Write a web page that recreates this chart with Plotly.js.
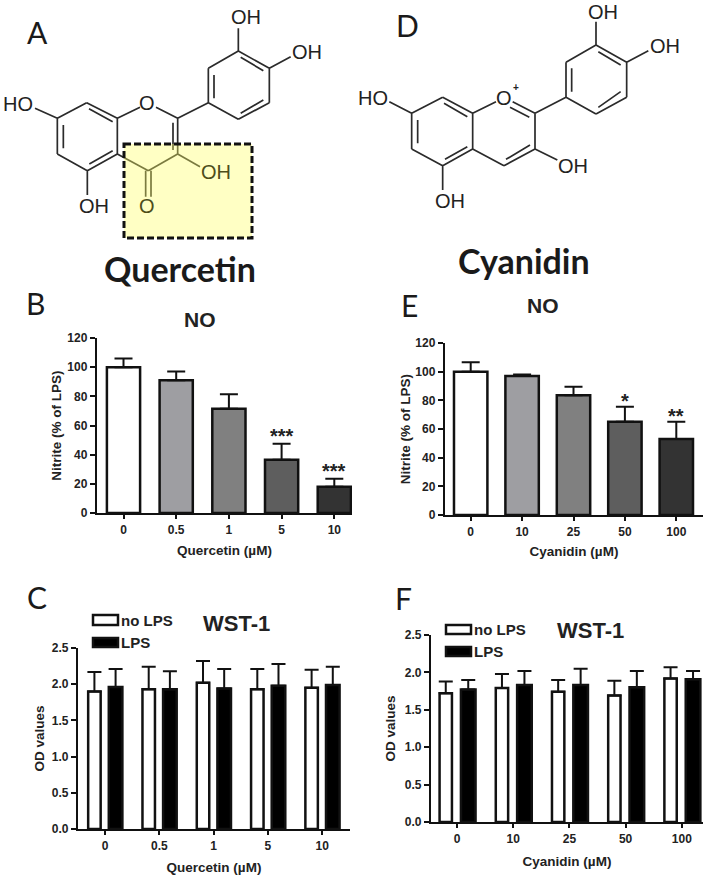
<!DOCTYPE html>
<html>
<head>
<meta charset="utf-8">
<script src="https://cdn.plot.ly/plotly-3.0.1.min.js"></script>
<style>html,body{margin:0;padding:0;background:#fff}#chart{width:715px;height:879px}</style>
</head>
<body>
<div id="chart"></div>
<script>
// ---- data ----
const quercetinDoses = ['0', '0.5', '1', '5', '10'];
const cyanidinDoses = ['0', '10', '25', '50', '100'];

const noQuercetin = [100, 91, 71.5, 36.5, 18];
const noQuercetinErr = [6, 6, 10, 11, 5.5];
const noQuercetinSig = ['', '', '', '***', '***'];

const noCyanidin = [100, 97, 83.5, 65, 53];
const noCyanidinErr = [6.5, 1, 6, 10.5, 12];
const noCyanidinSig = ['', '', '', '*', '**'];

const noFills = ['#ffffff', '#9e9ea2', '#808080', '#5e5e5e', '#333333'];

const wstQuercetinNoLps = [1.90, 1.93, 2.02, 1.93, 1.95];
const wstQuercetinNoLpsErr = [0.27, 0.31, 0.30, 0.28, 0.25];
const wstQuercetinLps = [1.96, 1.93, 1.94, 1.98, 1.99];
const wstQuercetinLpsErr = [0.25, 0.25, 0.27, 0.30, 0.25];

const wstCyanidinNoLps = [1.72, 1.79, 1.74, 1.69, 1.92];
const wstCyanidinNoLpsErr = [0.16, 0.19, 0.16, 0.20, 0.15];
const wstCyanidinLps = [1.77, 1.83, 1.83, 1.80, 1.91];
const wstCyanidinLpsErr = [0.13, 0.19, 0.22, 0.22, 0.11];

// ---- page pixel helpers ----
const W = 715, H = 879;
const px = x => x / W;
const py = y => 1 - y / H;
const INK = '#111111', TXT = '#222222';
const SANS = 'Liberation Sans, Arial, sans-serif';
const CAL = 'Lato, Carlito, sans-serif';

// ---- chemical structure drawings (reference zoom units: 3 per page pixel) ----
const quercetinBonds = [
 [172,355,260,308],[260,308,352,355],[352,355,352,462],[352,462,262,512],[262,512,172,462],[172,462,172,355],
 [267,326,338,365],[190,375,190,445],[338,452,268,492],
 [352,355,420,322],[468,322,533,355],[533,355,533,462],[519,368,519,450],[533,462,445,512],[445,512,352,462],
 [437,512,437,590],[453,512,453,590],[533,462,600,500],
 [533,355,625,308],[625,308,625,205],[625,205,715,153],[715,153,808,205],[808,205,808,308],[808,308,715,358],[715,358,625,308],
 [642,295,642,225],[722,172,790,212],[790,300,722,340],
 [715,153,715,85],[808,205,872,170],[172,355,105,325],[262,512,262,585]
];
const cyanidinBonds = [
 [185,340,278,292],[278,292,368,340],[368,340,368,447],[368,447,278,497],[278,497,185,447],[185,447,185,340],
 [282,310,352,350],[203,360,203,430],[352,440,285,478],
 [368,340,438,305],[488,305,555,340],[480,322,538,352],[555,340,555,447],[555,447,462,497],[462,497,368,447],[540,435,468,478],
 [555,447,622,480],[555,340,648,292],
 [648,292,648,187],[648,187,738,135],[738,135,830,187],[830,187,830,292],[830,292,738,342],[738,342,648,292],
 [665,275,665,205],[745,155,812,195],[812,275,745,322],
 [738,135,738,65],[830,187,895,152],[185,340,118,305],[278,497,278,570]
];
function bondPath(bonds, ox) {
  return bonds.map(b => 'M' + px(ox + b[0] / 3) + ',' + py(b[1] / 3) + 'L' + px(ox + b[2] / 3) + ',' + py(b[3] / 3)).join('');
}
const shapes = [
  {type:'path', xref:'paper', yref:'paper', path:bondPath(quercetinBonds, 0), line:{color:'#2b2b2b', width:1.7}},
  {type:'path', xref:'paper', yref:'paper', path:bondPath(cyanidinBonds, 350), line:{color:'#2b2b2b', width:1.7}},
  {type:'rect', xref:'paper', yref:'paper', x0:px(124), x1:px(252), y0:py(144), y1:py(238),
   fillcolor:'rgba(255,255,100,0.38)', line:{color:'#111111', width:3, dash:'7px,3px'}, layer:'above'}
];

function label(text, x, y, size, opts) {
  return Object.assign({text, xref:'paper', yref:'paper', x:px(x), y:py(y), xanchor:'center', yanchor:'middle',
    showarrow:false, font:{family:SANS, size, color:TXT}}, opts || {});
}
const calFont = (size, weight) => ({family:CAL, size, color:'#1a1a1a', weight});
const molFont = {family:SANS, size:20, color:'#222222'};
const boxFont = {family:SANS, size:20, color:'#4d4d1a'};
const annotations = [
  label('A', 37, 32, 30, {font:calFont(30, 400)}),
  label('D', 407, 25, 30, {font:calFont(30, 400)}),
  label('B', 35, 303, 30, {font:calFont(30, 400)}),
  label('E', 409, 305, 30, {font:calFont(30, 400)}),
  label('C', 37, 597, 30, {font:calFont(30, 400)}),
  label('F', 403, 598, 30, {font:calFont(30, 400)}),
  label('Quercetin', 180, 268, 34, {font:calFont(34, 700)}),
  label('Cyanidin', 524, 260, 34, {font:calFont(34, 700)}),
  label('NO', 200, 319, 21, {font:{family:SANS, size:21, color:TXT, weight:700}}),
  label('NO', 543, 305, 21, {font:{family:SANS, size:21, color:TXT, weight:700}}),
  label('WST-1', 237, 623, 22, {font:{family:SANS, size:22, color:TXT, weight:700}}),
  label('WST-1', 590, 630, 22, {font:{family:SANS, size:22, color:TXT, weight:700}}),
  // quercetin atoms
  label('OH', 246, 17, 20, {font:molFont}),
  label('OH', 307, 52, 20, {font:molFont}),
  label('HO', 18, 104, 20, {font:molFont}),
  label('O', 147, 103, 20, {font:molFont}),
  label('OH', 94, 206, 20, {font:molFont}),
  label('OH', 216, 172, 20, {font:boxFont}),
  label('O', 147, 206, 20, {font:boxFont}),
  // cyanidin atoms
  label('OH', 603, 12, 20, {font:molFont}),
  label('OH', 665, 46, 20, {font:molFont}),
  label('HO', 373, 98, 20, {font:molFont}),
  label('O', 504, 98, 20, {font:molFont}),
  label('+', 516, 88, 10, {font:{family:SANS, size:10, color:'#222222', weight:700}}),
  label('OH', 573, 166, 20, {font:molFont}),
  label('OH', 450, 201, 20, {font:molFont})
];

// legend keys, placed beside each WST-1 chart
function legendKey(x0, x1, yTop, yBot, fill) {
  shapes.push({type:'rect', xref:'paper', yref:'paper', x0:px(x0), x1:px(x1), y0:py(yTop), y1:py(yBot),
    fillcolor:fill, line:{color:INK, width:2.5}});
}
const legendFont = {family:SANS, size:15, color:TXT, weight:700};
legendKey(93, 118, 615, 625, '#ffffff'); legendKey(93, 118, 638, 647, '#000000');
annotations.push(label('no LPS', 119, 620, 15, {xanchor:'left', font:legendFont}));
annotations.push(label('LPS', 119, 642, 15, {xanchor:'left', font:legendFont}));
legendKey(446, 471, 625, 634, '#ffffff'); legendKey(446, 471, 647, 656, '#000000');
annotations.push(label('no LPS', 472, 629, 15, {xanchor:'left', font:legendFont}));
annotations.push(label('LPS', 472, 651, 15, {xanchor:'left', font:legendFont}));

// ---- axes ----
function xAxis(anchor, left, right, c0, step, title, doses, standoff) {
  return {type:'category', categoryorder:'array', categoryarray:doses, anchor,
    domain:[px(left), px(right)], range:[(left - c0) / step, (right - c0) / step],
    showline:true, linecolor:INK, linewidth:2.2, ticks:'outside', ticklen:4, tickwidth:2, tickcolor:INK,
    showgrid:false, zeroline:false,
    tickfont:{family:SANS, size:12, color:TXT, weight:700},
    title:{text:title, font:{family:SANS, size:13.5, color:TXT, weight:700}, standoff}, automargin:false};
}
function yAxis(anchor, top, bottom, max, dtick, title, fmt, standoff) {
  return {anchor, domain:[py(bottom), py(top)], range:[0, max], dtick, tickformat:fmt,
    showline:true, linecolor:INK, linewidth:2.2, ticks:'outside', ticklen:5, tickwidth:2, tickcolor:INK,
    showgrid:false, zeroline:false,
    tickfont:{family:SANS, size:12, color:TXT, weight:700},
    title:{text:title, font:{family:SANS, size:13.5, color:TXT, weight:700}, standoff}, automargin:false};
}
const layout = {
  width:W, height:H, margin:{l:0, r:0, t:0, b:0}, paper_bgcolor:'#ffffff', plot_bgcolor:'rgba(0,0,0,0)',
  showlegend:false, barmode:'overlay',
  xaxis: xAxis('y', 97, 352, 123.5, 52.7, 'Quercetin (µM)', quercetinDoses, 10),
  yaxis: yAxis('x', 338, 513, 120, 20, 'Nitrite (% of LPS)', 'd', 3),
  xaxis2:xAxis('y2', 445, 703, 470.7, 51.4, 'Cyanidin (µM)', cyanidinDoses, 9),
  yaxis2:yAxis('x2', 343, 515, 120, 20, 'Nitrite (% of LPS)', 'd', 2),
  xaxis3:xAxis('y3', 78, 350, 105, 54.3, 'Quercetin (µM)', quercetinDoses, 11),
  yaxis3:yAxis('x3', 648, 829, 2.5, 0.5, 'OD values', '.1f', 4),
  xaxis4:xAxis('y4', 431, 703, 457, 56.2, 'Cyanidin (µM)', cyanidinDoses, 12),
  yaxis4:yAxis('x4', 635, 822, 2.5, 0.5, 'OD values', '.1f', 6),
  shapes, annotations
};

// significance marks sit just above each error bar
function sigMarks(xa, ya, vals, errs, sig, shift) {
  sig.forEach((s, i) => { if (s) annotations.push({text:s, xref:xa, yref:ya, x:i, y:vals[i] + errs[i],
    yanchor:'middle', yshift:shift, showarrow:false, font:{family:SANS, size:20, color:'#222222', weight:700}}); });
}
sigMarks('x', 'y', noQuercetin, noQuercetinErr, noQuercetinSig, 8);
sigMarks('x2', 'y2', noCyanidin, noCyanidinErr, noCyanidinSig, 6);

// ---- traces ----
function bars(xa, ya, name, x, y, err, fill, width, offset, cap) {
  return {type:'bar', name, xaxis:xa, yaxis:ya, x, y, width, offset,
    marker:{color:fill, line:{color:INK, width:2.5}},
    error_y:{type:'data', symmetric:false, array:err, arrayminus:err.map(() => 0), color:INK, thickness:2, width:cap}};
}
const traces = [
  bars('x', 'y', 'NO', quercetinDoses, noQuercetin, noQuercetinErr, noFills, 0.63, -0.315, 9),
  bars('x2', 'y2', 'NO', cyanidinDoses, noCyanidin, noCyanidinErr, noFills, 0.65, -0.325, 9),
  bars('x3', 'y3', 'no LPS', quercetinDoses, wstQuercetinNoLps, wstQuercetinNoLpsErr, '#ffffff', 0.23, -0.31, 7),
  bars('x3', 'y3', 'LPS', quercetinDoses, wstQuercetinLps, wstQuercetinLpsErr, '#000000', 0.25, 0.07, 7),
  bars('x4', 'y4', 'no LPS', cyanidinDoses, wstCyanidinNoLps, wstCyanidinNoLpsErr, '#ffffff', 0.22, -0.31, 7),
  bars('x4', 'y4', 'LPS', cyanidinDoses, wstCyanidinLps, wstCyanidinLpsErr, '#000000', 0.26, 0.07, 7)
];

Plotly.newPlot('chart', traces, layout, {displayModeBar:false, staticPlot:true});
</script>
</body>
</html>
